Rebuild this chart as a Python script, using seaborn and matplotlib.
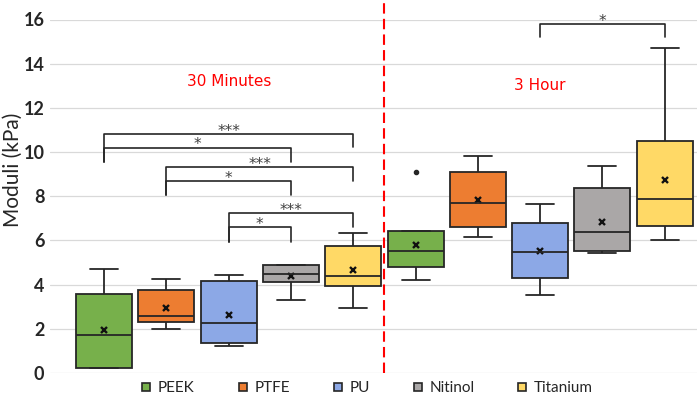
import numpy as np
import pandas as pd
import matplotlib
matplotlib.use("Agg")
import matplotlib.pyplot as plt
from matplotlib.lines import Line2D
import seaborn as sns

materials = ["PEEK", "PTFE", "PU", "Nitinol", "Titanium"]
groups = ["30 Minutes", "3 Hour"]
colors = ["#77B04B", "#ED7D31", "#8CA8E6", "#AAA7A7", "#FFD966"]

# box stats, 30 min then 3 h
whisk_lo = [0.22, 1.98, 1.22, 3.31, 2.96, 4.19, 6.15, 3.54, 5.43, 6.00]
q1 = [0.22, 2.33, 1.35, 4.11, 3.95, 4.78, 6.61, 4.31, 5.50, 6.67]
med = [1.71, 2.60, 2.28, 4.48, 4.38, 5.50, 7.68, 5.49, 6.36, 7.88]
q3 = [3.56, 3.75, 4.17, 4.87, 5.76, 6.43, 9.12, 6.77, 8.39, 10.49]
whisk_hi = [4.70, 4.26, 4.43, 4.87, 6.34, 6.43, 9.84, 7.66, 9.36, 14.69]
means = [1.95, 2.92, 2.63, 4.38, 4.64, 5.80, 7.83, 5.53, 6.85, 8.74]
outliers = {5: [9.12]}

rows = []
for i in range(10):
    vals = [whisk_lo[i]] + [q1[i]] * 4 + [med[i]] * 4 + [q3[i]] * 4 + [whisk_hi[i]]
    vals += outliers.get(i, [])
    for v in vals:
        rows.append({"slot": str(i), "material": materials[i % 5],
                     "group": groups[i // 5], "moduli": v})
df = pd.DataFrame(rows)

# significance brackets: left box, right box, bar height, left leg end, right leg end, label
brackets = [
    (0, 4, 10.81, 9.54, 10.22, "***"),
    (0, 3, 10.20, 9.54, 9.54, "*"),
    (1, 4, 9.33, 8.07, 8.68, "***"),
    (1, 3, 8.68, 8.07, 8.07, "*"),
    (2, 4, 7.24, 5.95, 6.59, "***"),
    (2, 3, 6.59, 5.95, 5.95, "*"),
    (7, 9, 15.80, 15.20, 15.20, "*"),
]

sns.set_style("whitegrid")
plt.rcParams["font.family"] = ["Lato", "DejaVu Sans"]

fig = plt.figure(figsize=(6.99, 4.01), dpi=100)
ax = fig.add_axes([50 / 699, 1 - 373 / 401, 647 / 699, 353.5 / 401])

dark = "#262626"
sns.boxplot(
    data=df, x="slot", y="moduli", hue="material",
    order=[str(i) for i in range(10)], hue_order=materials,
    palette=colors, saturation=1, dodge=False, width=0.9,
    linecolor=dark, linewidth=1.3, legend=False, ax=ax,
    flierprops={"marker": "o", "markersize": 3, "markerfacecolor": dark,
                "markeredgecolor": dark},
)
ax.plot(np.arange(10), means, ls="none", marker="x", ms=5, mew=1.7, color="#111111")

ax.set_xlim(-0.87, 9.52)
ax.set_ylim(0, 16)
ax.set_yticks(range(0, 17, 2))
ax.set_xticks([])
ax.set_xlabel("")
ax.set_ylabel("Moduli (kPa)", fontsize=15)
ax.yaxis.set_label_coords(-0.042, 9.2 / 16)
ax.tick_params(axis="y", length=0, pad=4, labelsize=13)
for t in ax.get_yticklabels():
    t.set_fontweight("bold")
ax.grid(axis="y", color="#D9D9D9", lw=0.9)
ax.grid(axis="x", visible=False)
for s in ax.spines.values():
    s.set_visible(False)

ax.axvline(4.5, ymin=0, ymax=1.05, color="#FF0000", lw=1.5,
           ls=(0, (5, 2.5)), clip_on=False, zorder=1)

ax.text(2, 13.2, groups[0], color="#FF0000", fontsize=11, ha="center", va="center",
        family="DejaVu Sans")
ax.text(7, 13.0, groups[1], color="#FF0000", fontsize=11, ha="center", va="center",
        family="DejaVu Sans")

for a, b, y, ya, yb, lab in brackets:
    ax.plot([a, a, b, b], [ya, y, y, yb], color=dark, lw=1.2, clip_on=False)
    ax.text((a + b) / 2, y - 0.08, lab, ha="center", va="baseline", fontsize=11,
            color="#404040", family="DejaVu Sans")

handles = [Line2D([], [], ls="none", marker="s", ms=6, markerfacecolor=c,
                  markeredgecolor=dark, mew=1.2) for c in colors]
fig.legend(handles, materials, loc="center", bbox_to_anchor=(0.525, 0.032),
           ncol=5, frameon=False, fontsize=11, handlelength=0.7,
           handletextpad=0.4, columnspacing=2.8)

fig.savefig("out.png", dpi=100)
